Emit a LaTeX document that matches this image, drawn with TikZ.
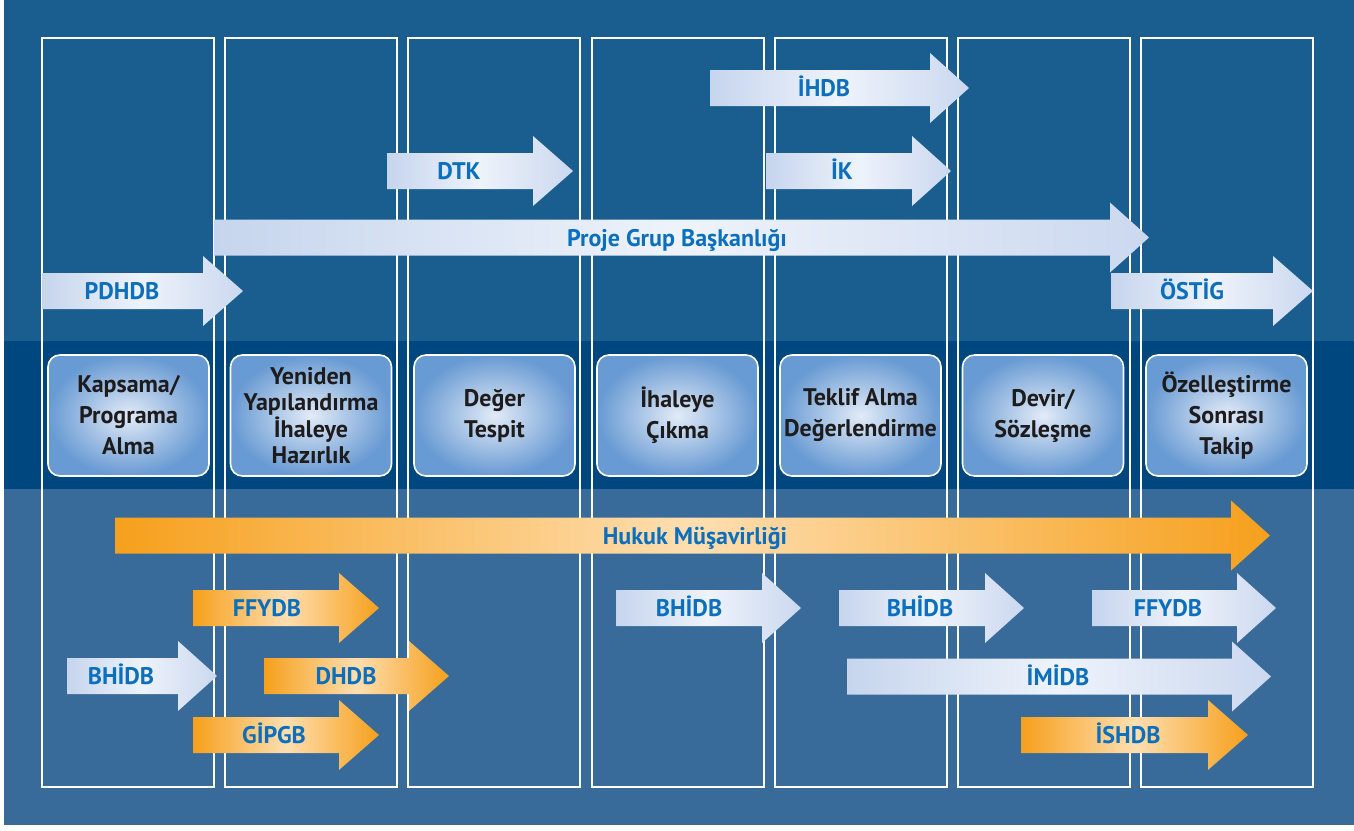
\documentclass[tikz,border=0pt]{standalone}
\usepackage{fontspec}
\setmainfont{PT Sans}
\definecolor{topband}{RGB}{26,94,143}
\definecolor{midband}{RGB}{0,70,127}
\definecolor{botband}{RGB}{56,107,154}
\definecolor{lblue}{RGB}{11,111,189}
\definecolor{boxtext}{RGB}{30,27,28}
\definecolor{lightA}{RGB}{198,213,237}
\definecolor{lightB}{RGB}{238,243,251}
\definecolor{lightC}{RGB}{203,216,239}
\definecolor{orA}{RGB}{246,160,28}
\definecolor{orB}{RGB}{254,222,176}
\definecolor{boxin}{RGB}{226,235,247}
\definecolor{boxout}{RGB}{104,154,211}
\tikzset{
  colbox/.style={draw=white, line width=1.6pt},
  stage/.style={draw=white, line width=1.6pt, rounded corners=12pt,
    inner color=boxin, outer color=boxout, minimum width=161pt, minimum height=121pt,
    inner sep=1pt, align=center, text=boxtext,
    font=\fontsize{24}{31}\selectfont\bfseries},
  lightarrow/.style={left color=lightA, right color=lightC, middle color=lightB},
  orangearrow/.style={left color=orA, right color=orA, middle color=orB},
  lbl/.style={anchor=base, inner sep=0pt, text=lblue, font=\fontsize{24}{26}\selectfont\bfseries}
}
% #1 name, #2 x0, #3 head start, #4 tip, #5 centre y, #6 style, #7 label x, #8 text
\newcommand\flowarrow[8]{%
  \path[#6] (#2,#5-18) -- (#3,#5-18) -- (#3,#5-35) -- (#4,#5) -- (#3,#5+35)
     -- (#3,#5+18) -- (#2,#5+18) -- cycle;
  \node[lbl] (#1) at (#7,#5+8.5) {#8};
}
\begin{document}
\begin{tikzpicture}[x=1pt,y=-1pt]
\useasboundingbox (0,0) rectangle (1354,830);
\fill[white] (0,0) rectangle (1354,830);
% bands
\fill[topband] (4,0) rectangle (1354,341);
\fill[midband] (4,341) rectangle (1354,489);
\fill[botband] (4,489) rectangle (1354,825);
% columns
\foreach \x in {42,225,408,592,775,958,1141}
  \draw[colbox] (\x,38) rectangle (\x+172,787);
% stage boxes
\node[stage] (s1) at (128.5,415.5) {Kapsama/\\Programa\\Alma};
\node[stage, font=\fontsize{24}{26.5}\selectfont\bfseries] (s2) at (311,415.5) {Yeniden\\Yapılandırma\\İhaleye\\Hazırlık};
\node[stage] (s3) at (494.5,415.5) {Değer\\Tespit};
\node[stage] (s4) at (677.5,415.5) {İhaleye\\Çıkma};
\node[stage] (s5) at (860.5,415.5) {Teklif Alma\\Değerlendirme};
\node[stage] (s6) at (1043,415.5) {Devir/\\Sözleşme};
\node[stage] (s7) at (1226.5,415.5) {Özelleştirme\\Sonrası\\Takip};
% top arrows
\flowarrow{ihdb}{710}{930}{969}{88}{lightarrow}{824}{İHDB}
\flowarrow{dtk}{387}{533}{573}{171}{lightarrow}{459}{DTK}
\flowarrow{ik}{766}{912}{951}{171}{lightarrow}{842}{İK}
\flowarrow{pgb}{214}{1110}{1149}{237.5}{lightarrow}{677}{Proje Grup Başkanlığı}
\flowarrow{pdhdb}{42}{203}{243}{291}{lightarrow}{122}{PDHDB}
\flowarrow{ostig}{1111}{1273}{1313}{291}{lightarrow}{1192}{ÖSTİG}
% bottom arrows
\flowarrow{hukuk}{115}{1231}{1270}{535.5}{orangearrow}{695}{Hukuk Müşavirliği}
\flowarrow{ffydbA}{193}{339}{379}{608}{orangearrow}{267}{FFYDB}
\flowarrow{bhidbA}{67}{178}{217}{676}{lightarrow}{121}{BHİDB}
\flowarrow{dhdb}{264}{409}{449}{676}{orangearrow}{346}{DHDB}
\flowarrow{gipgb}{193}{339}{379}{735}{orangearrow}{274}{GİPGB}
\flowarrow{bhidbB}{616}{762}{801}{608}{lightarrow}{689}{BHİDB}
\flowarrow{bhidbC}{839}{985}{1024}{608}{lightarrow}{920}{BHİDB}
\flowarrow{ffydbB}{1092}{1237}{1276}{608}{lightarrow}{1168}{FFYDB}
\flowarrow{imidb}{847}{1232}{1271}{676.5}{lightarrow}{1058}{İMİDB}
\flowarrow{ishdb}{1021}{1208}{1248}{735}{orangearrow}{1128}{İSHDB}
\end{tikzpicture}
\end{document}
